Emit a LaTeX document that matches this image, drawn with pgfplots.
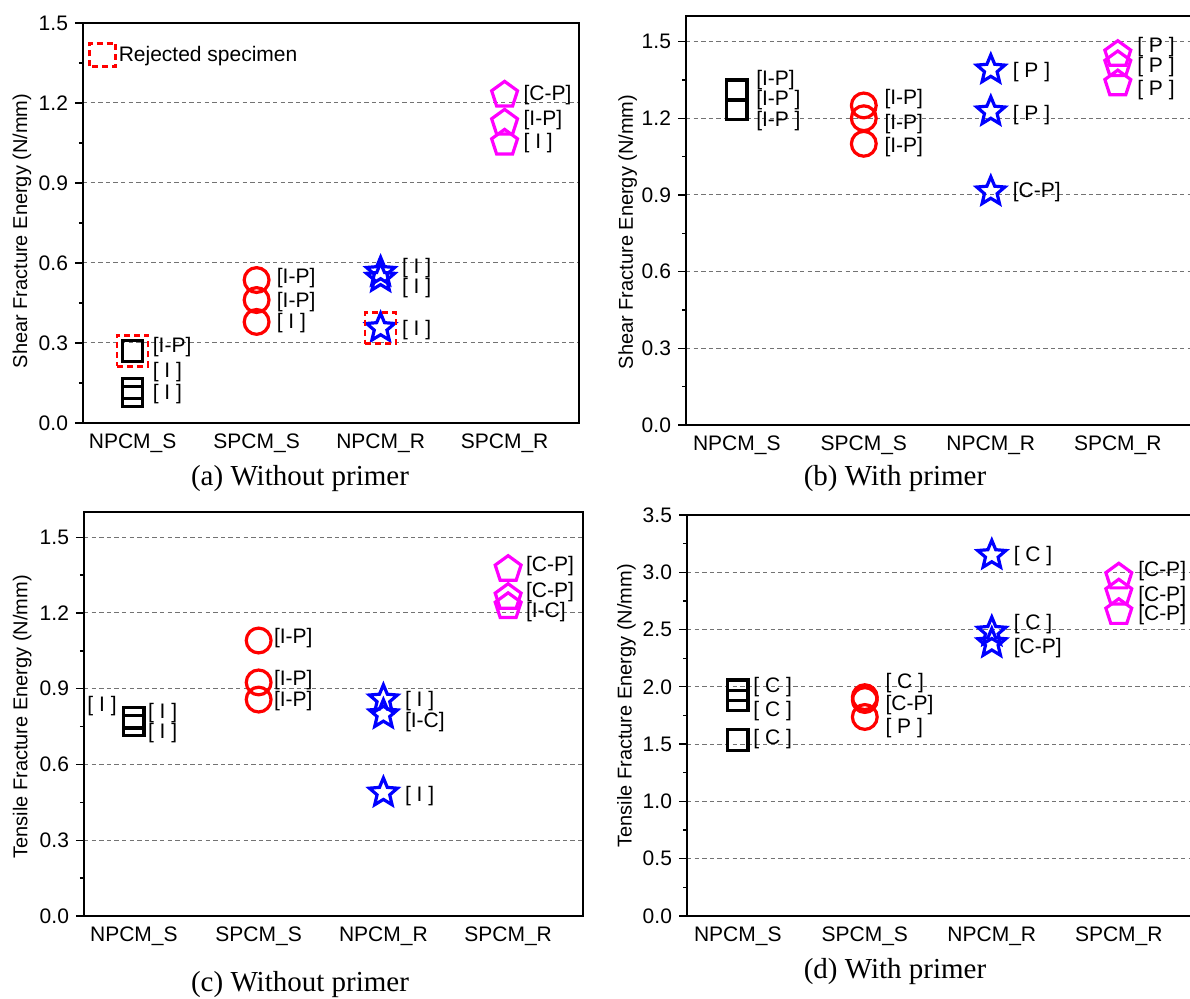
\documentclass[border=0pt]{standalone}
\usepackage{fontspec}
\setmainfont{Liberation Sans}
\newfontfamily\capfont{Liberation Serif}
\usepackage{pgfplots}
\pgfplotsset{compat=1.18}

\pgfdeclareplotmark{ostar}{%
  \pgfpathmoveto{\pgfpointpolar{90}{\pgfplotmarksize}}%
  \pgfpathlineto{\pgfpointpolar{126}{0.45\pgfplotmarksize}}%
  \pgfpathlineto{\pgfpointpolar{162}{\pgfplotmarksize}}%
  \pgfpathlineto{\pgfpointpolar{198}{0.45\pgfplotmarksize}}%
  \pgfpathlineto{\pgfpointpolar{234}{\pgfplotmarksize}}%
  \pgfpathlineto{\pgfpointpolar{270}{0.45\pgfplotmarksize}}%
  \pgfpathlineto{\pgfpointpolar{306}{\pgfplotmarksize}}%
  \pgfpathlineto{\pgfpointpolar{342}{0.45\pgfplotmarksize}}%
  \pgfpathlineto{\pgfpointpolar{18}{\pgfplotmarksize}}%
  \pgfpathlineto{\pgfpointpolar{54}{0.45\pgfplotmarksize}}%
  \pgfpathclose
  \pgfusepathqstroke
}

\definecolor{mag}{RGB}{255,0,255}

\pgfplotsset{
  panel/.style={
    scale only axis, anchor=south west,
    xmin=0.6, xmax=4.6, ymin=0,
    xtick={1,2,3,4},
    xticklabels={NPCM\_S,SPCM\_S,NPCM\_R,SPCM\_R},
    x tick style={draw=none},
    minor y tick num=1,
    tick align=outside, ytick pos=left, xtick pos=bottom,
    major tick length=4pt, minor tick length=2pt,
    axis line style={line width=0.65pt},
    every tick/.style={black, line width=0.65pt},
    ymajorgrids,
    grid style={black!55, line width=0.5pt, dash pattern=on 2.2pt off 1.6pt},
    tick label style={font=\fontsize{10.5}{12}\selectfont},
    xticklabel style={yshift=2pt},
    label style={font=\fontsize{9.7}{11}\selectfont},
    /pgf/number format/assume math mode=true,
    yticklabel style={/pgf/number format/fixed, /pgf/number format/fixed zerofill, /pgf/number format/precision=1},
    clip=false,
  },
  sq/.style={only marks, black, mark=square, mark size=5.1pt, mark options={line width=1.6pt}},
  ci/.style={only marks, red, mark=o, mark size=6.2pt, mark options={line width=1.6pt}},
  st/.style={only marks, blue, mark=ostar, mark size=7.4pt, mark options={line width=1.6pt}},
  pe/.style={only marks, mag, mark=pentagon, mark size=6.8pt, mark options={line width=1.6pt}},
  rej/.style={only marks, red, mark=square, mark size=7.75pt, mark options={line width=1.2pt, dash pattern=on 3pt off 2pt}},
}
\tikzset{lab/.style={anchor=west, inner sep=0pt, font=\fontsize{10.5}{12}\selectfont}}

\begin{document}
\begin{tikzpicture}
\path[use as bounding box] (0,0) rectangle (595pt,499.5pt);

% (a)
\begin{axis}[panel, at={(41.5pt,288pt)}, width=248pt, height=200pt,
  ymax=1.5, ytick={0,0.3,...,1.5},
  ylabel={Shear Fracture Energy (N/mm)},
  every axis y label/.style={at={(axis description cs:-0.123,0.48)}, rotate=90, anchor=center},
  legend style={at={(axis description cs:0.01,0.92)}, anchor=west, draw=none, fill=none, inner sep=0pt,
    font=\fontsize{10.5}{12}\selectfont, nodes={inner sep=1pt}},
  legend image code/.code={\draw[red, line width=1.2pt, dash pattern=on 3pt off 2pt] (0pt,-5.75pt) rectangle (13pt,5.75pt);}]
\addplot[sq, forget plot] coordinates {(1,0.27) (1,0.13) (1,0.10)};
\addplot[ci, forget plot] coordinates {(2,0.536) (2,0.461) (2,0.379)};
\addplot[st, forget plot] coordinates {(3,0.566) (3,0.544) (3,0.356)};
\addplot[pe, forget plot] coordinates {(4,1.23) (4,1.125) (4,1.05)};
\addplot[rej] coordinates {(1,0.27) (3,0.356)};
\addlegendentry{Rejected specimen}
\node[lab] at (axis cs:1.16,0.285) {[I-P]};
\node[lab] at (axis cs:1.16,0.19) {[ I ]};
\node[lab] at (axis cs:1.16,0.11) {[ I ]};
\node[lab] at (axis cs:2.16,0.543) {[I-P]};
\node[lab] at (axis cs:2.16,0.454) {[I-P]};
\node[lab] at (axis cs:2.16,0.375) {[ I ]};
\node[lab] at (axis cs:3.17,0.58) {[ I ]};
\node[lab] at (axis cs:3.17,0.506) {[ I ]};
\node[lab] at (axis cs:3.17,0.349) {[ I ]};
\node[lab] at (axis cs:4.15,1.23) {[C-P]};
\node[lab] at (axis cs:4.15,1.136) {[I-P]};
\node[lab] at (axis cs:4.15,1.05) {[ I ]};
\end{axis}

% (b)
\begin{axis}[panel, at={(343pt,287pt)}, width=254pt, height=204.5pt,
  ymax=1.6, ytick={0,0.3,...,1.5},
  ylabel={Shear Fracture Energy (N/mm)},
  every axis y label/.style={at={(axis description cs:-0.115,0.472)}, rotate=90, anchor=center}]
\addplot[sq] coordinates {(1,1.312) (1,1.31) (1,1.234)};
\addplot[ci] coordinates {(2,1.25) (2,1.20) (2,1.10)};
\addplot[st] coordinates {(3,1.39) (3,1.226) (3,0.913)};
\addplot[pe] coordinates {(4,1.45) (4,1.41) (4,1.335)};
\node[lab] at (axis cs:1.15,1.35) {[I-P]};
\node[lab] at (axis cs:1.15,1.27) {[I-P ]};
\node[lab] at (axis cs:1.15,1.19) {[I-P ]};
\node[lab] at (axis cs:2.16,1.273) {[I-P]};
\node[lab] at (axis cs:2.16,1.179) {[I-P]};
\node[lab] at (axis cs:2.16,1.089) {[I-P]};
\node[lab] at (axis cs:3.17,1.379) {[ P ]};
\node[lab] at (axis cs:3.17,1.214) {[ P ]};
\node[lab] at (axis cs:3.17,0.913) {[C-P]};
\node[lab] at (axis cs:4.15,1.48) {[ P ]};
\node[lab] at (axis cs:4.15,1.40) {[ P ]};
\node[lab] at (axis cs:4.15,1.31) {[ P ]};
\end{axis}

% (c)
\begin{axis}[panel, at={(42pt,41.5pt)}, width=249.5pt, height=202pt,
  ymax=1.6, ytick={0,0.3,...,1.5},
  ylabel={Tensile Fracture Energy (N/mm)},
  every axis y label/.style={at={(axis description cs:-0.124,0.493)}, rotate=90, anchor=center}]
\addplot[sq] coordinates {(1,0.785) (1,0.755) (1,0.755)};
\addplot[ci] coordinates {(2,1.091) (2,0.925) (2,0.857)};
\addplot[st] coordinates {(3,0.857) (3,0.798) (3,0.488)};
\addplot[pe] coordinates {(4,1.373) (4,1.262) (4,1.226)};
\node[lab, anchor=east] at (axis cs:0.865,0.83) {[ I ]};
\node[lab] at (axis cs:1.11,0.805) {[ I ]};
\node[lab] at (axis cs:1.11,0.726) {[ I ]};
\node[lab] at (axis cs:2.12,1.10) {[I-P]};
\node[lab] at (axis cs:2.12,0.936) {[I-P]};
\node[lab] at (axis cs:2.12,0.853) {[I-P]};
\node[lab] at (axis cs:3.17,0.85) {[ I ]};
\node[lab] at (axis cs:3.17,0.766) {[I-C]};
\node[lab] at (axis cs:3.17,0.476) {[ I ]};
\node[lab] at (axis cs:4.14,1.385) {[C-P]};
\node[lab] at (axis cs:4.14,1.282) {[C-P]};
\node[lab] at (axis cs:4.14,1.202) {[I-C]};
\end{axis}

% (d)
\begin{axis}[panel, at={(343.5pt,41.5pt)}, width=254pt, height=200.5pt,
  ymax=3.5, ytick={0,0.5,...,3.5},
  ylabel={Tensile Fracture Energy (N/mm)},
  every axis y label/.style={at={(axis description cs:-0.119,0.524)}, rotate=90, anchor=center}]
\addplot[sq] coordinates {(1,1.97) (1,1.88) (1,1.536)};
\addplot[ci] coordinates {(2,1.91) (2,1.885) (2,1.737)};
\addplot[st] coordinates {(3,3.15) (3,2.48) (3,2.38)};
\addplot[pe] coordinates {(4,2.96) (4,2.82) (4,2.65)};
\node[lab] at (axis cs:1.12,2.0) {[ C ]};
\node[lab] at (axis cs:1.12,1.79) {[ C ]};
\node[lab] at (axis cs:1.12,1.545) {[ C ]};
\node[lab] at (axis cs:2.16,2.03) {[ C ]};
\node[lab] at (axis cs:2.16,1.84) {[C-P]};
\node[lab] at (axis cs:2.16,1.64) {[ P ]};
\node[lab] at (axis cs:3.17,3.14) {[ C ]};
\node[lab] at (axis cs:3.17,2.55) {[ C ]};
\node[lab] at (axis cs:3.17,2.34) {[C-P]};
\node[lab] at (axis cs:4.15,3.01) {[C-P]};
\node[lab] at (axis cs:4.15,2.79) {[C-P]};
\node[lab] at (axis cs:4.15,2.63) {[C-P]};
\end{axis}

\node[font=\capfont\fontsize{14.5}{17}\selectfont] at (150pt,260pt) {(a) Without primer};
\node[font=\capfont\fontsize{14.5}{17}\selectfont] at (447.5pt,260pt) {(b) With primer};
\node[font=\capfont\fontsize{14.5}{17}\selectfont] at (150pt,7pt) {(c) Without primer};
\node[font=\capfont\fontsize{14.5}{17}\selectfont] at (447.5pt,13.5pt) {(d) With primer};
\end{tikzpicture}
\end{document}
